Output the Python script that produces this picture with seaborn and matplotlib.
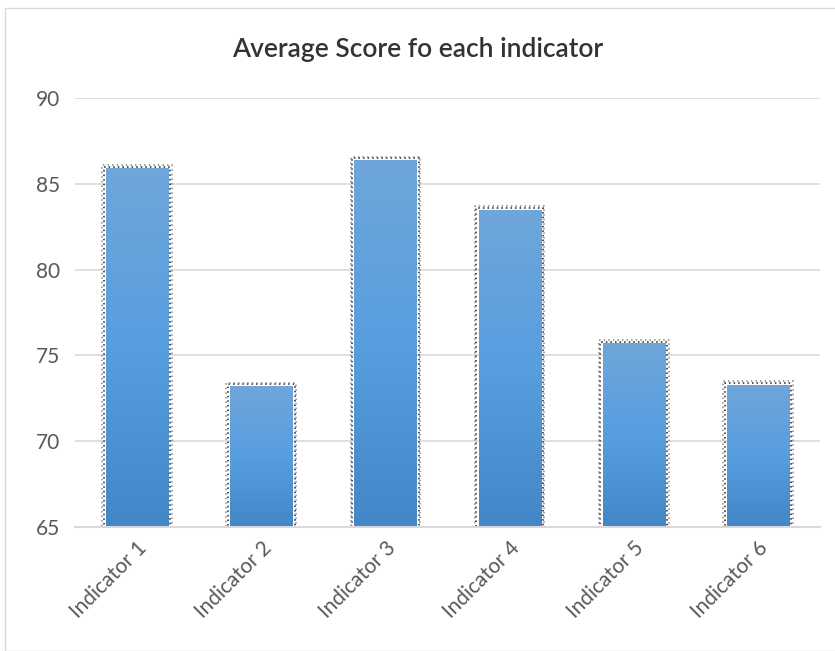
import numpy as np
import pandas as pd
import matplotlib.pyplot as plt
import seaborn as sns
from matplotlib.colors import LinearSegmentedColormap
from matplotlib.patches import Rectangle

indicators = ["Indicator 1", "Indicator 2", "Indicator 3", "Indicator 4", "Indicator 5", "Indicator 6"]
scores = [85.9, 73.2, 86.4, 83.5, 75.7, 73.3]
y_ticks = [65, 70, 75, 80, 85, 90]

df = pd.DataFrame({"indicator": indicators, "score": scores})

sns.set_style("white")
plt.rcParams["font.family"] = ["Lato", "DejaVu Sans"]

fig = plt.figure(figsize=(8.35, 6.51), dpi=100)
ax = fig.add_axes([75 / 835, 1 - 527 / 651, 745 / 835, 429 / 651])

sns.barplot(data=df, x="indicator", y="score", color="#5b9bd5", width=0.5, ax=ax,
            bottom=0, saturation=1)

ax.set_ylim(65, 90)
ax.set_yticks(y_ticks)
ax.set_xlim(-0.5, len(indicators) - 0.5)

# gradient fill + dotted outline, like the office chart
grad = LinearSegmentedColormap.from_list("g", ["#4287c8", "#579ee0", "#6fa6da"])
for bar in ax.patches:
    x0, y0 = bar.get_x(), 65
    w, h = bar.get_width(), bar.get_height()
    bar.set_facecolor("none")
    bar.set_edgecolor("none")
    img = ax.imshow(np.linspace(0, 1, 256).reshape(-1, 1), cmap=grad, origin="lower",
                    extent=[x0, x0 + w, y0, h], aspect="auto", zorder=2)
    img.set_clip_path(bar)
    for off, col in [(0.018, "#222222"), (0.03, "#888888")]:
        outline = Rectangle((x0 - off, y0), w + 2 * off, h - y0 + off * 6, fill=False,
                            edgecolor=col, linestyle=(0, (1, 2)), linewidth=1.1, zorder=1.5)
        ax.add_patch(outline)

ax.set_xlim(-0.5, len(indicators) - 0.5)
ax.set_ylim(65, 90)

ax.yaxis.grid(True, color="#d9d9d9", linewidth=1.2)
ax.set_axisbelow(True)
for side in ["top", "right", "left"]:
    ax.spines[side].set_visible(False)
ax.spines["bottom"].set_color("#d9d9d9")
ax.spines["bottom"].set_linewidth(1.5)
ax.tick_params(axis="both", length=0, labelsize=15, colors="#595959", pad=8)
ax.tick_params(axis="y", pad=11)
ax.set_xticks(range(len(indicators)))
ax.set_xticklabels(indicators, rotation=45, ha="right", rotation_mode="anchor")
ax.set_xlabel("")
ax.set_ylabel("")

fig.text(0.5, 1 - 50 / 651, "Average Score fo each indicator", ha="center", va="center",
         fontsize=19, color="#333333", fontweight="semibold")

fig.patches.append(Rectangle((5 / 835, 0), 835 / 835, 1 - 8 / 651, transform=fig.transFigure,
                             fill=False, edgecolor="#d9d9d9", linewidth=1))

fig.savefig("out.png", dpi=100)
